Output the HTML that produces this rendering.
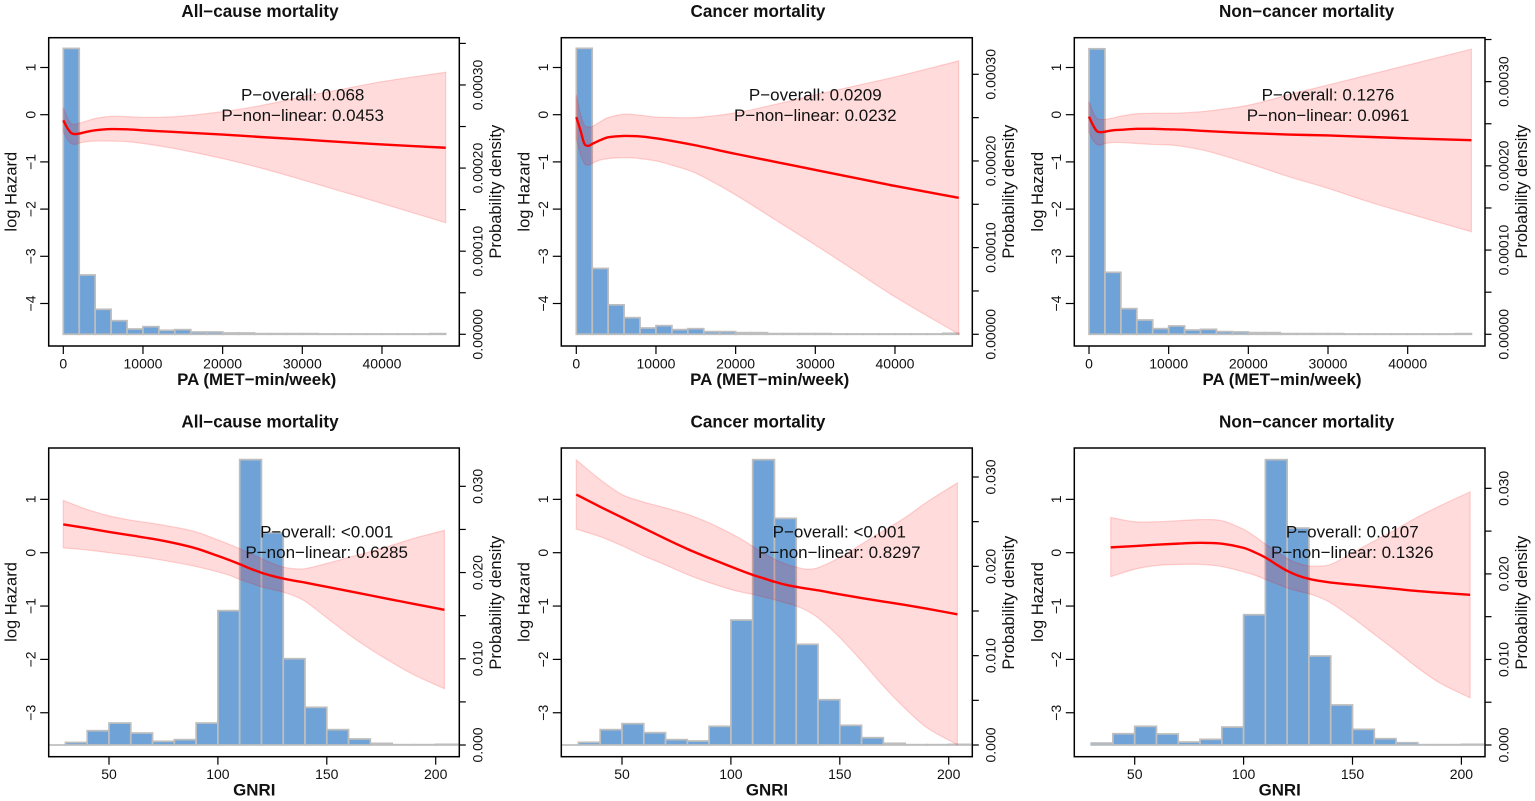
<!DOCTYPE html>
<html lang="en">
<head>
<meta charset="utf-8">
<title>Mortality spline panels</title>
<style>
html,body{margin:0;padding:0;background:#fff;width:1535px;height:801px;overflow:hidden}
svg{display:block;filter:blur(0.3px)}
text{font-family:"Liberation Sans",sans-serif;fill:#111}
.title{font-size:17.1px;font-weight:bold;text-anchor:middle}
.xlab{font-size:16.9px;font-weight:bold;text-anchor:middle}
.ylab{font-size:16.5px;text-anchor:middle}
.ptext{font-size:17px;text-anchor:middle}
.tick{font-size:14px;text-anchor:middle}
</style>
</head>
<body>
<svg id="chart" xmlns="http://www.w3.org/2000/svg" width="1535" height="801" viewBox="0 0 1535 801">
<g id="marks"></g>

<text class="title" x="260" y="17">All−cause mortality</text>
<text class="title" x="758" y="17">Cancer mortality</text>
<text class="title" x="1306.7" y="17">Non−cancer mortality</text>
<text class="title" x="260" y="427.7">All−cause mortality</text>
<text class="title" x="758" y="427.7">Cancer mortality</text>
<text class="title" x="1306.7" y="427.7">Non−cancer mortality</text>

<text class="xlab" x="256.7" y="385">PA (MET−min/week)</text>
<text class="xlab" x="769.7" y="385">PA (MET−min/week)</text>
<text class="xlab" x="1282" y="385">PA (MET−min/week)</text>
<text class="xlab" x="254.3" y="795.3">GNRI</text>
<text class="xlab" x="767" y="795.3">GNRI</text>
<text class="xlab" x="1279.7" y="795.3">GNRI</text>

<text class="ylab" transform="translate(16.7,191.7) rotate(-90)">log Hazard</text>
<text class="ylab" transform="translate(529.3,191.7) rotate(-90)">log Hazard</text>
<text class="ylab" transform="translate(1042.8,191.7) rotate(-90)">log Hazard</text>
<text class="ylab" transform="translate(16.7,602) rotate(-90)">log Hazard</text>
<text class="ylab" transform="translate(529.3,602) rotate(-90)">log Hazard</text>
<text class="ylab" transform="translate(1042.8,602) rotate(-90)">log Hazard</text>

<text class="ylab" transform="translate(501,191.7) rotate(-90)">Probability density</text>
<text class="ylab" transform="translate(1014,191.7) rotate(-90)">Probability density</text>
<text class="ylab" transform="translate(1527,191.7) rotate(-90)">Probability density</text>
<text class="ylab" transform="translate(501,602.7) rotate(-90)">Probability density</text>
<text class="ylab" transform="translate(1014,602.7) rotate(-90)">Probability density</text>
<text class="ylab" transform="translate(1527,602.7) rotate(-90)">Probability density</text>

<text class="ptext" x="302.7" y="100.7">P−overall: 0.068</text>
<text class="ptext" x="302.7" y="121">P−non−linear: 0.0453</text>
<text class="ptext" x="815.3" y="100.7">P−overall: 0.0209</text>
<text class="ptext" x="815.3" y="121">P−non−linear: 0.0232</text>
<text class="ptext" x="1328" y="100.7">P−overall: 0.1276</text>
<text class="ptext" x="1328" y="121">P−non−linear: 0.0961</text>
<text class="ptext" x="326.7" y="537.7">P−overall: &lt;0.001</text>
<text class="ptext" x="326.7" y="558">P−non−linear: 0.6285</text>
<text class="ptext" x="839.3" y="537.7">P−overall: &lt;0.001</text>
<text class="ptext" x="839.3" y="558">P−non−linear: 0.8297</text>
<text class="ptext" x="1352.3" y="537.7">P−overall: 0.0107</text>
<text class="ptext" x="1352.3" y="558">P−non−linear: 0.1326</text>
</svg>

<script>
// ---------- shared axis values ----------
var paCurveX = [0,500,1000,1500,2000,3000,4000,6000,8000,10000,12000,15000,20000,25000,30000,35000,40000,48000];
var gnriCurveX = [29,40,50,60,70,80,90,100,105,110,115,120,125,130,135,140,150,160,170,180,190,204];
var gnriCurveX3 = [39,50,60,70,80,90,100,105,110,115,120,125,130,135,140,150,160,170,180,190,204];
var paBinStart = 0;
var paBinWidth = 2000;
var gnriBinStart = 20;
var gnriBinStart3 = 30;
var gnriBinWidth = 10;
var paXTicks = [0,10000,20000,30000,40000];
var gnriXTicks = [50,100,150,200];
var paHazardTicks = [-4,-3,-2,-1,0,1];
var gnriHazardTicks = [-3,-2,-1,0,1];
var paDensityLabels = ["0.00000","0.00010","0.00020","0.00030"];
var paDensityLabelValues = [0,0.0001,0.0002,0.0003];
var gnriDensityLabels = ["0.000","0.010","0.020","0.030"];
var gnriDensityLabelValues = [0,0.01,0.02,0.03];
var paDensityTicksLong = [0,0.00005,0.0001,0.00015,0.0002,0.00025,0.0003,0.00035];
var paDensityTicksShort = [0,0.00005,0.0001,0.00015,0.0002,0.00025,0.0003];
var gnriDensityTicks = [0,0.005,0.01,0.015,0.02,0.025,0.03];

// ---------- PA, all-cause ----------
var pa1Density = [3.44e-4,7.14e-5,3.01e-5,1.64e-5,6.4e-6,9.2e-6,4.8e-6,5.6e-6,2.8e-6,2.8e-6,1.6e-6,1.6e-6,8e-7,8e-7,8e-7,8e-7,4e-7,4e-7,4e-7,4e-7,4e-7,4e-7,4e-7,8e-7];
var pa1Mean = [-0.12,-0.28,-0.39,-0.41,-0.40,-0.36,-0.33,-0.305,-0.31,-0.33,-0.35,-0.375,-0.42,-0.475,-0.525,-0.58,-0.63,-0.70];
var pa1Upper = [0.15,-0.06,-0.19,-0.20,-0.18,-0.13,-0.08,-0.035,-0.04,-0.055,-0.055,-0.03,0.065,0.20,0.38,0.54,0.70,0.90];
var pa1Lower = [-0.36,-0.52,-0.61,-0.63,-0.60,-0.57,-0.56,-0.56,-0.57,-0.61,-0.66,-0.75,-0.93,-1.14,-1.38,-1.63,-1.88,-2.29];

// ---------- PA, cancer ----------
var pa2Density = [3.30e-4,7.6e-5,3.4e-5,1.92e-5,7.3e-6,1e-5,5.4e-6,6.5e-6,3.1e-6,3.1e-6,1.9e-6,1.9e-6,8e-7,8e-7,8e-7,8e-7,4e-7,4e-7,4e-7,4e-7,4e-7,4e-7,4e-7,1.1e-6];
var pa2Mean = [-0.05,-0.32,-0.61,-0.66,-0.62,-0.54,-0.48,-0.45,-0.46,-0.50,-0.555,-0.65,-0.83,-1.00,-1.17,-1.34,-1.51,-1.76];
var pa2Upper = [0.42,0.03,-0.22,-0.26,-0.25,-0.15,-0.06,0.01,-0.01,-0.05,-0.06,-0.06,0.04,0.22,0.42,0.61,0.80,1.14];
var pa2Lower = [-0.50,-0.82,-1.03,-1.07,-1.03,-0.96,-0.93,-0.91,-0.93,-0.98,-1.07,-1.24,-1.70,-2.23,-2.76,-3.31,-3.86,-4.65];

// ---------- PA, non-cancer ----------
var pa3Density = [3.39e-4,7.36e-5,3.05e-5,1.7e-5,6.7e-6,9.9e-6,5.1e-6,5.9e-6,3.2e-6,2.8e-6,2e-6,2e-6,8e-7,8e-7,8e-7,8e-7,4e-7,4e-7,4e-7,4e-7,4e-7,4e-7,4e-7,8e-7];
var pa3Mean = [-0.04,-0.22,-0.35,-0.37,-0.36,-0.33,-0.32,-0.30,-0.30,-0.31,-0.32,-0.35,-0.39,-0.42,-0.44,-0.47,-0.50,-0.54];
var pa3Upper = [0.28,0.06,-0.08,-0.10,-0.10,-0.07,-0.03,0.02,0.03,0.03,0.04,0.08,0.20,0.42,0.63,0.84,1.05,1.39];
var pa3Lower = [-0.36,-0.54,-0.63,-0.64,-0.61,-0.59,-0.59,-0.61,-0.63,-0.64,-0.68,-0.78,-1.03,-1.31,-1.56,-1.84,-2.09,-2.48];

// ---------- GNRI, all-cause ----------
var gnri1Density = [0,0.0003,0.00166,0.00255,0.00139,0.00043,0.00062,0.00255,0.01558,0.0331,0.02463,0.01001,0.00437,0.00178,0.0007,0.00019,0.00004,0.00004,0.00008];
var gnri1Mean = [0.53,0.46,0.39,0.325,0.26,0.18,0.08,-0.06,-0.135,-0.215,-0.30,-0.375,-0.435,-0.485,-0.525,-0.56,-0.64,-0.72,-0.80,-0.88,-0.96,-1.07];
var gnri1Upper = [0.98,0.81,0.69,0.61,0.55,0.48,0.39,0.24,0.16,0.075,-0.02,-0.11,-0.20,-0.27,-0.30,-0.30,-0.20,-0.09,0.02,0.14,0.27,0.42];
var gnri1Lower = [0.09,0.05,0,-0.05,-0.11,-0.18,-0.26,-0.36,-0.42,-0.50,-0.57,-0.64,-0.69,-0.74,-0.81,-0.91,-1.22,-1.53,-1.81,-2.06,-2.29,-2.55];

// ---------- GNRI, cancer ----------
var gnri2Density = [0,0.0003,0.00172,0.00239,0.00138,0.0006,0.00045,0.00209,0.01399,0.03194,0.02537,0.01127,0.00507,0.0022,0.00082,0.00019,0.00004,0.00004,0.00007];
var gnri2Mean = [1.09,0.86,0.66,0.46,0.26,0.07,-0.10,-0.26,-0.34,-0.415,-0.48,-0.545,-0.60,-0.64,-0.675,-0.705,-0.78,-0.85,-0.915,-0.98,-1.05,-1.155];
var gnri2Upper = [1.74,1.37,1.09,0.95,0.84,0.72,0.56,0.36,0.25,0.12,-0.01,-0.12,-0.21,-0.27,-0.31,-0.28,-0.09,0.16,0.41,0.66,0.95,1.31];
var gnri2Lower = [0.44,0.30,0.13,-0.06,-0.23,-0.41,-0.56,-0.69,-0.74,-0.78,-0.83,-0.88,-0.94,-1.00,-1.09,-1.22,-1.59,-2.03,-2.50,-2.92,-3.28,-3.60];

// ---------- GNRI, non-cancer ----------
var gnri3Density = [0.00023,0.00132,0.00218,0.00129,0.00035,0.00066,0.0021,0.01523,0.03335,0.02536,0.0104,0.00468,0.00183,0.00074,0.00027,0.00004,0.00004,0.00008];
var gnri3Mean = [0.10,0.125,0.15,0.17,0.185,0.17,0.09,0.01,-0.09,-0.22,-0.34,-0.43,-0.49,-0.53,-0.56,-0.60,-0.64,-0.68,-0.72,-0.75,-0.79];
var gnri3Upper = [0.66,0.58,0.58,0.60,0.62,0.60,0.44,0.31,0.16,0.03,-0.11,-0.20,-0.25,-0.25,-0.22,0,0.22,0.44,0.67,0.875,1.14];
var gnri3Lower = [-0.45,-0.31,-0.24,-0.22,-0.22,-0.26,-0.36,-0.42,-0.50,-0.58,-0.66,-0.72,-0.77,-0.84,-0.94,-1.22,-1.53,-1.84,-2.16,-2.44,-2.72];

// ---------- layout (pixels, separate from the data) ----------
var boxLeft = [48.7, 561.3, 1074.3];
var boxRight = [459.3, 972.3, 1485];
var rows = [
  {top:37.7, bottom:346, yZero:114.7, yUnit:47.2, xRefVal:0, xUnit:79.67/10000, xRefPx:[63.3,576.3,1089], densZero:334.3},
  {top:448, bottom:756.7, yZero:552.7, yUnit:53.35, xRefVal:50, xUnit:2.178, xRefPx:[109,622,1134.7], densZero:745}
];

var panels = [
  {id:'pa-all-cause', row:0, col:0, binStart:paBinStart, binWidth:paBinWidth, density:pa1Density, curveX:paCurveX, mean:pa1Mean, upper:pa1Upper, lower:pa1Lower, xTicks:paXTicks, yTicks:paHazardTicks, dTicks:paDensityTicksLong, dLabelVals:paDensityLabelValues, dLabels:paDensityLabels, densPxPerUnit:249.33/0.0003},
  {id:'pa-cancer', row:0, col:1, binStart:paBinStart, binWidth:paBinWidth, density:pa2Density, curveX:paCurveX, mean:pa2Mean, upper:pa2Upper, lower:pa2Lower, xTicks:paXTicks, yTicks:paHazardTicks, dTicks:paDensityTicksShort, dLabelVals:paDensityLabelValues, dLabels:paDensityLabels, densPxPerUnit:260/0.0003},
  {id:'pa-non-cancer', row:0, col:2, binStart:paBinStart, binWidth:paBinWidth, density:pa3Density, curveX:paCurveX, mean:pa3Mean, upper:pa3Upper, lower:pa3Lower, xTicks:paXTicks, yTicks:paHazardTicks, dTicks:paDensityTicksLong, dLabelVals:paDensityLabelValues, dLabels:paDensityLabels, densPxPerUnit:252.67/0.0003},
  {id:'gnri-all-cause', row:1, col:0, binStart:gnriBinStart, binWidth:gnriBinWidth, density:gnri1Density, curveX:gnriCurveX, mean:gnri1Mean, upper:gnri1Upper, lower:gnri1Lower, xTicks:gnriXTicks, yTicks:gnriHazardTicks, dTicks:gnriDensityTicks, dLabelVals:gnriDensityLabelValues, dLabels:gnriDensityLabels, densPxPerUnit:258.67/0.03},
  {id:'gnri-cancer', row:1, col:1, binStart:gnriBinStart, binWidth:gnriBinWidth, density:gnri2Density, curveX:gnriCurveX, mean:gnri2Mean, upper:gnri2Upper, lower:gnri2Lower, xTicks:gnriXTicks, yTicks:gnriHazardTicks, dTicks:gnriDensityTicks, dLabelVals:gnriDensityLabelValues, dLabels:gnriDensityLabels, densPxPerUnit:268/0.03},
  {id:'gnri-non-cancer', row:1, col:2, binStart:gnriBinStart3, binWidth:gnriBinWidth, density:gnri3Density, curveX:gnriCurveX3, mean:gnri3Mean, upper:gnri3Upper, lower:gnri3Lower, xTicks:gnriXTicks, yTicks:gnriHazardTicks, dTicks:gnriDensityTicks, dLabelVals:gnriDensityLabelValues, dLabels:gnriDensityLabels, densPxPerUnit:256.67/0.03}
];

var NS = 'http://www.w3.org/2000/svg';
var root = document.getElementById('marks');

function make(tag, parent, props) {
  var el = document.createElementNS(NS, tag);
  for (var k in props) { el.setAttribute(k, props[k]); }
  parent.appendChild(el);
  return el;
}

// Cubic Hermite segments through pixel points, tangents weighted for uneven spacing
function spline(pts) {
  var slope = function (i) {
    var a = pts[Math.max(i - 1, 0)], b = pts[Math.min(i + 1, pts.length - 1)];
    return (b[1] - a[1]) / (b[0] - a[0]);
  };
  var d = '';
  for (var i = 0; i < pts.length - 1; i++) {
    var p1 = pts[i], p2 = pts[i + 1], dx = (p2[0] - p1[0]) / 3;
    var c1x = p1[0] + dx, c1y = p1[1] + slope(i) * dx;
    var c2x = p2[0] - dx, c2y = p2[1] - slope(i + 1) * dx;
    d += 'C' + c1x.toFixed(2) + ' ' + c1y.toFixed(2) + ' ' + c2x.toFixed(2) + ' ' + c2y.toFixed(2) + ' ' + p2[0].toFixed(2) + ' ' + p2[1].toFixed(2);
  }
  return d;
}

panels.forEach(function (p) {
  var r = rows[p.row];
  var L = boxLeft[p.col], R = boxRight[p.col];
  var xRefPx = r.xRefPx[p.col];
  var xScale = function (v) { return xRefPx + (v - r.xRefVal) * r.xUnit; };
  var yScale = function (v) { return r.yZero - v * r.yUnit; };
  var dScale = function (v) { return r.densZero - v * p.densPxPerUnit; };

  var g = make('g', root, {});
  
  

  var clipId = 'clip-' + p.id;
  var defs = make('defs', g, {});
  var clip = make('clipPath', defs, {id: clipId});
  make('rect', clip, {x: L, y: r.top, width: R - L, height: r.bottom - r.top});

  // histogram
  var bars = make('g', g, {'clip-path': 'url(#' + clipId + ')'});
  
  
  p.density.forEach(function (d, i) {
    var x0 = xScale(p.binStart + i * p.binWidth), x1 = xScale(p.binStart + (i + 1) * p.binWidth);
    var y = dScale(d);
    var bar = make('rect', bars, {x: x0, y: y, width: x1 - x0, height: Math.max(r.densZero - y, 0.02), fill: '#6FA3D8', stroke: '#BEBEBE', 'stroke-width': 1.7});
    
    
  });

  // confidence band
  var up = p.curveX.map(function (x, i) { return [xScale(x), yScale(p.upper[i])]; });
  var lo = p.curveX.map(function (x, i) { return [xScale(x), yScale(p.lower[i])]; }).reverse();
  var bandD = 'M' + up[0][0] + ' ' + up[0][1] + spline(up) + 'L' + lo[0][0] + ' ' + lo[0][1] + spline(lo) + 'Z';
  var band = make('path', g, {d: bandD, fill: 'rgba(255,0,0,0.14)', stroke: 'rgba(255,0,0,0.16)', 'stroke-width': 1.2});
  
  

  // hazard curve
  var mid = p.curveX.map(function (x, i) { return [xScale(x), yScale(p.mean[i])]; });
  var line = make('path', g, {d: 'M' + mid[0][0] + ' ' + mid[0][1] + spline(mid), fill: 'none', stroke: '#FF0000', 'stroke-width': 2.4});
  
  

  // frame
  var frame = make('rect', g, {x: L, y: r.top, width: R - L, height: r.bottom - r.top, fill: 'none', stroke: '#000', 'stroke-width': 1.5});
  
  

  // x axis
  p.xTicks.forEach(function (v) {
    var x = xScale(v);
    make('line', g, {x1: x, x2: x, y1: r.bottom, y2: r.bottom + 8, stroke: '#000', 'stroke-width': 1.2});
    var t = make('text', g, {x: x, y: r.bottom + 22.5, class: 'tick'});
    t.textContent = v;
    
    
  });

  // left axis
  p.yTicks.forEach(function (v) {
    var y = yScale(v);
    make('line', g, {x1: L, x2: L - 8.5, y1: y, y2: y, stroke: '#000', 'stroke-width': 1.2});
    var t = make('text', g, {transform: 'translate(' + (L - 13.3) + ',' + y + ') rotate(-90)', class: 'tick'});
    t.textContent = String(v).replace('-', '\u2212');
    
    
  });

  // right axis
  p.dTicks.forEach(function (v) {
    var y = dScale(v);
    make('line', g, {x1: R, x2: R + 6.5, y1: y, y2: y, stroke: '#000', 'stroke-width': 1.2});
  });
  p.dLabelVals.forEach(function (v, i) {
    var t = make('text', g, {transform: 'translate(' + (R + 23.3) + ',' + dScale(v) + ') rotate(-90)', class: 'tick'});
    t.textContent = p.dLabels[i];
    
    
  });
});
</script>
</body>
</html>
